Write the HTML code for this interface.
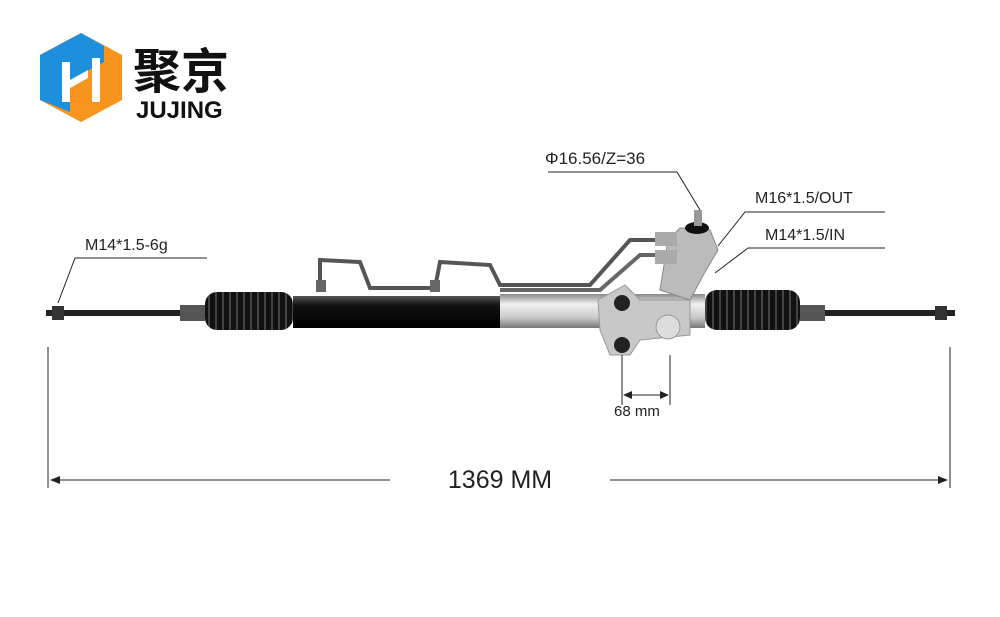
<!DOCTYPE html>
<html><head><meta charset="utf-8"><style>
body{margin:0;background:#fff;}
svg{display:block;font-family:"Liberation Sans","Noto Sans CJK SC",sans-serif;}
</style></head><body>
<svg width="1000" height="617" viewBox="0 0 1000 617" xmlns="http://www.w3.org/2000/svg">
<defs>
<linearGradient id="blk" x1="0" y1="0" x2="0" y2="1"><stop offset="0" stop-color="#555"/><stop offset="0.3" stop-color="#111"/><stop offset="1" stop-color="#000"/></linearGradient>
<linearGradient id="sil" x1="0" y1="0" x2="0" y2="1"><stop offset="0" stop-color="#8a8a8a"/><stop offset="0.3" stop-color="#f0f0f0"/><stop offset="0.7" stop-color="#c8c8c8"/><stop offset="1" stop-color="#777"/></linearGradient>
<pattern id="boot" width="7" height="40" patternUnits="userSpaceOnUse"><rect width="7" height="40" fill="#111"/><rect x="5" width="2" height="40" fill="#444"/></pattern>
</defs>
<!-- logo -->
<polygon points="81,33 122,55 122,100 81,122 40,100 40,55" fill="#f7941d"/>
<polygon points="81,33 104,46 104,62 70,80 70,112 40,100 40,55" fill="#1e8fdc"/>
<polygon points="81,33 104,46 104,62 88,70 88,44" fill="#1e8fdc"/>
<rect x="62" y="62" width="8" height="40" fill="#fff"/>
<rect x="92" y="58" width="8" height="44" fill="#fff"/>
<polygon points="70,80 88,70 88,78 70,88" fill="#fff"/>
<text x="133" y="88" font-size="48" font-weight="bold" fill="#111" font-family="'Noto Sans CJK SC',sans-serif">聚京</text>
<text x="136" y="118" font-size="24" font-weight="bold" fill="#111">JUJING</text>
<!-- tie rods -->
<rect x="46" y="310" width="160" height="6" fill="#222"/>
<rect x="52" y="306" width="12" height="14" fill="#333"/>
<rect x="180" y="305" width="25" height="16" fill="#555"/>
<rect x="800" y="310" width="155" height="6" fill="#222"/>
<rect x="935" y="306" width="12" height="14" fill="#333"/>
<rect x="800" y="305" width="25" height="16" fill="#555"/>
<!-- boots -->
<rect x="205" y="292" width="88" height="38" rx="12" fill="url(#boot)"/>
<rect x="705" y="290" width="95" height="40" rx="12" fill="url(#boot)"/>
<!-- tube -->
<rect x="293" y="296" width="210" height="32" fill="url(#blk)"/>
<rect x="500" y="294" width="205" height="34" fill="url(#sil)"/>
<!-- pipes -->
<path d="M320,290 L320,260 L360,262 L370,288 L435,288 L440,262 L490,265 L500,285 L590,285 L630,240 L660,240" stroke="#555" stroke-width="4" fill="none"/>
<path d="M500,290 L600,290 L640,255 L665,255" stroke="#666" stroke-width="4" fill="none"/>
<rect x="316" y="280" width="10" height="12" fill="#666"/>
<rect x="430" y="280" width="10" height="12" fill="#666"/>
<!-- mounts -->
<path d="M598,300 L625,285 L640,300 L690,300 L690,335 L640,340 L630,355 L610,355 L600,330 Z" fill="#c8c8c8" stroke="#999"/>
<circle cx="622" cy="303" r="8" fill="#222"/>
<circle cx="622" cy="345" r="8" fill="#222"/>
<circle cx="668" cy="327" r="12" fill="#ddd" stroke="#999"/>
<!-- valve -->
<path d="M660,290 L668,240 L680,228 L710,230 L718,250 L705,272 L690,300 Z" fill="#bbb" stroke="#888"/>
<rect x="655" y="232" width="22" height="14" fill="#aaa"/>
<rect x="655" y="250" width="22" height="14" fill="#aaa"/>
<ellipse cx="697" cy="228" rx="12" ry="6" fill="#111"/>
<rect x="694" y="210" width="8" height="16" fill="#999"/>
<!-- leaders -->
<g stroke="#222" stroke-width="1" fill="none">
<path d="M207,258 L75,258 L58,303"/>
<path d="M548,172 L677,172 L700,210"/>
<path d="M885,212 L745,212 L718,246"/>
<path d="M885,248 L748,248 L715,273"/>
<path d="M48,347 L48,488 M950,347 L950,488"/>
<path d="M52,480 L390,480 M610,480 L946,480"/>
<path d="M622,355 L622,405 M670,355 L670,405 M626,395 L666,395"/>
</g>
<g fill="#222">
<polygon points="50,480 60,476 60,484"/>
<polygon points="948,480 938,476 938,484"/>
<polygon points="623,395 632,391 632,399"/>
<polygon points="669,395 660,391 660,399"/>
</g>
<g fill="#222" font-size="16">
<text x="85" y="250">M14*1.5-6g</text>
<text x="545" y="164" font-size="17">Φ16.56/Z=36</text>
<text x="755" y="203">M16*1.5/OUT</text>
<text x="765" y="240">M14*1.5/IN</text>
<text x="614" y="416" font-size="15">68 mm</text>
<text x="500" y="488" font-size="25" text-anchor="middle">1369 MM</text>
</g>
</svg>
</body></html>
